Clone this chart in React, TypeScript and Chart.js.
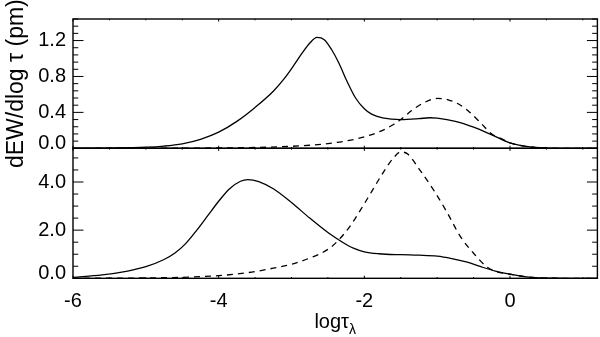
import React, { useEffect, useRef } from 'react';
import { Chart, registerables } from 'chart.js';

Chart.register(...registerables);

// ---- data ----
const topSolidX = [-6, -5.5, -5, -4.75, -4.5, -4.25, -4, -3.75, -3.5, -3.25, -3.1, -2.95, -2.85, -2.75, -2.65, -2.55, -2.45, -2.35, -2.24, -2.12, -2, -1.9, -1.75, -1.5, -1.25, -1.1, -1, -0.75, -0.5, -0.25, 0, 0.25, 0.5, 0.75, 1.2];
const topSolidY = [0, 0.003, 0.012, 0.025, 0.05, 0.1, 0.18, 0.3, 0.455, 0.635, 0.775, 0.945, 1.065, 1.17, 1.235, 1.21, 1.1, 0.95, 0.75, 0.56, 0.44, 0.38, 0.34, 0.32, 0.33, 0.34, 0.335, 0.3, 0.235, 0.15, 0.06, 0.018, 0.003, 0, 0];

const topDashedX = [-6, -5, -4.5, -4, -3.5, -3, -2.75, -2.5, -2.25, -2, -1.75, -1.6, -1.5, -1.35, -1.2, -1, -0.85, -0.7, -0.55, -0.4, -0.25, -0.1, 0, 0.25, 0.5, 0.75, 1.2];
const topDashedY = [0, 0.001, 0.002, 0.004, 0.009, 0.022, 0.034, 0.052, 0.082, 0.127, 0.2, 0.265, 0.32, 0.42, 0.5, 0.555, 0.54, 0.49, 0.4, 0.28, 0.16, 0.1, 0.06, 0.018, 0.003, 0, 0];

const bottomSolidX = [-6, -5.6, -5.25, -5, -4.75, -4.6, -4.45, -4.3, -4.15, -4, -3.85, -3.7, -3.6, -3.45, -3.25, -3, -2.75, -2.5, -2.3, -2.15, -2, -1.8, -1.5, -1.25, -1, -0.8, -0.6, -0.4, -0.2, 0, 0.2, 0.4, 0.6, 0.8, 1.2];
const bottomSolidY = [0.04, 0.14, 0.3, 0.48, 0.78, 1.05, 1.45, 2.0, 2.6, 3.2, 3.72, 4.03, 4.1, 4.02, 3.72, 3.15, 2.5, 1.9, 1.5, 1.25, 1.1, 1.02, 0.98, 0.96, 0.92, 0.82, 0.68, 0.48, 0.3, 0.17, 0.07, 0.02, 0.003, 0, 0];

const bottomDashedX = [-6, -5.5, -5, -4.5, -4, -3.75, -3.5, -3.25, -3, -2.75, -2.5, -2.35, -2.2, -2.05, -1.9, -1.75, -1.6, -1.5, -1.4, -1.25, -1.05, -0.87, -0.68, -0.5, -0.32, -0.18, 0, 0.2, 0.4, 0.6, 0.8, 1.2];
const bottomDashedY = [0, 0.005, 0.015, 0.04, 0.11, 0.18, 0.28, 0.42, 0.58, 0.84, 1.2, 1.6, 2.15, 2.85, 3.6, 4.35, 5.0, 5.25, 5.15, 4.55, 3.67, 2.77, 1.73, 1.04, 0.48, 0.27, 0.17, 0.07, 0.02, 0.003, 0, 0];

const xRange = [-6, 1.2];
const xMajorTicks = [-6, -4, -2, 0];
const xTickLabels = ['-6', '-4', '-2', '0'];
const xMinorStep = 0.5;

const topYRange = [0, 1.44];
const topYMajor = [0, 0.4, 0.8, 1.2];
const topYLabels = ['0.0', '0.4', '0.8', '1.2'];
const topYMinorStep = 0.08;

const bottomYRange = [0, 5.4];
const bottomYMajor = [0, 2, 4];
const bottomYLabels = ['0.0', '2.0', '4.0'];
const bottomYMinorStep = 0.5;

const yTitle = 'dEW/dlog τ (pm)';
const xTitleMain = 'logτ';
const xTitleSub = 'λ';

const FAMILY = '"Liberation Sans", Arial, Helvetica, sans-serif';
const W = 600;
const H = 337;
const PLOT_LEFT = 73;
const PLOT_RIGHT_PAD = 2.6;
const PLOT_TOP = 17;
const PLOT_MID = 148.3;
const PLOT_BOTTOM = 278.3;

function framePlugin(yMin: number, yMax: number, yMajor: number[], yMinorStep: number) {
  return {
    id: 'frameTicks',
    afterDatasetsDraw(chart: any) {
      const { ctx, chartArea: a } = chart;
      const xs = chart.scales.x;
      const ys = chart.scales.y;
      const w = a.right - a.left;
      const h = a.bottom - a.top;
      const xLen = 0.02 * h;
      const yLen = 0.02 * w;
      ctx.save();
      ctx.strokeStyle = '#000';
      ctx.lineWidth = 1;
      ctx.beginPath();
      for (let i = 0; ; i++) {
        const v = xRange[0] + i * xMinorStep;
        if (v > xRange[1] + 1e-9) break;
        const major = xMajorTicks.some((m) => Math.abs(m - v) < 1e-9);
        const len = major ? xLen : xLen / 2;
        const px = xs.getPixelForValue(v);
        ctx.moveTo(px, a.bottom);
        ctx.lineTo(px, a.bottom - len);
        ctx.moveTo(px, a.top);
        ctx.lineTo(px, a.top + len);
      }
      for (let i = 0; ; i++) {
        const v = yMin + i * yMinorStep;
        if (v > yMax + 1e-9) break;
        const major = yMajor.some((m) => Math.abs(m - v) < 1e-6);
        const len = major ? yLen : yLen / 2;
        const py = ys.getPixelForValue(v);
        ctx.moveTo(a.left, py);
        ctx.lineTo(a.left + len, py);
        ctx.moveTo(a.right, py);
        ctx.lineTo(a.right - len, py);
      }
      ctx.stroke();
      ctx.lineWidth = 1.4;
      ctx.strokeRect(a.left, a.top, w, h);
      ctx.restore();
    },
  };
}

const xTitlePlugin = {
  id: 'xTitle',
  afterDraw(chart: any) {
    const { ctx, chartArea: a } = chart;
    ctx.save();
    ctx.fillStyle = '#000';
    ctx.textBaseline = 'alphabetic';
    ctx.textAlign = 'left';
    const mainFont = `20px ${FAMILY}`;
    const subFont = `14px ${FAMILY}`;
    ctx.font = mainFont;
    const mw = ctx.measureText(xTitleMain).width;
    ctx.font = subFont;
    const sw = ctx.measureText(xTitleSub).width;
    const cx = (a.left + a.right) / 2;
    const x0 = cx - (mw + sw) / 2;
    ctx.font = mainFont;
    ctx.fillText(xTitleMain, x0, 328);
    ctx.font = subFont;
    ctx.fillText(xTitleSub, x0 + mw, 334);
    ctx.restore();
  },
};

function line(xs: number[], ys: number[], dashed: boolean) {
  return {
    data: xs.map((x, i) => ({ x, y: ys[i] })),
    borderColor: '#000',
    borderWidth: 1.3,
    borderDash: dashed ? [6, 5] : [],
    pointRadius: 0,
    cubicInterpolationMode: 'monotone' as const,
    fill: false,
  };
}

const yTickFont = (c: any) => ({
  family: FAMILY,
  size: 20,
  lineHeight: c && c.tick && c.tick.value === 0 ? 0.5 : 1.2,
});

function yScale(range: number[], major: number[], labels: string[], withTitle: boolean) {
  return {
    type: 'linear' as const,
    min: range[0],
    max: range[1],
    afterFit: (s: any) => {
      s.width = PLOT_LEFT;
    },
    afterBuildTicks: (s: any) => {
      s.ticks = major.map((v) => ({ value: v }));
    },
    grid: { display: false, drawTicks: false },
    border: { display: false },
    ticks: {
      padding: 7,
      color: '#000',
      font: yTickFont,
      callback: (v: any) => {
        const i = major.findIndex((m) => Math.abs(m - v) < 1e-9);
        const t = i >= 0 ? labels[i] : '';
        return Math.abs(v) < 1e-9 ? [t, ''] : t;
      },
    },
    title: {
      display: withTitle,
      text: yTitle,
      color: '#000',
      font: { family: FAMILY, size: 23 },
      padding: { top: 3, bottom: 3 },
    },
  };
}

export default function App() {
  const topRef = useRef<HTMLCanvasElement>(null);
  const botRef = useRef<HTMLCanvasElement>(null);

  useEffect(() => {
    Chart.defaults.color = '#000';
    Chart.defaults.font.family = FAMILY;

    const common = {
      animation: false as const,
      responsive: false,
      maintainAspectRatio: false,
      events: [] as any[],
      plugins: { legend: { display: false }, tooltip: { enabled: false } },
    };

    const top = new Chart(topRef.current as HTMLCanvasElement, {
      type: 'line',
      data: { datasets: [line(topSolidX, topSolidY, false), line(topDashedX, topDashedY, true)] as any },
      options: {
        ...common,
        layout: { padding: { left: 0, right: PLOT_RIGHT_PAD, top: PLOT_TOP, bottom: H - PLOT_MID } },
        scales: {
          x: { type: 'linear', min: xRange[0], max: xRange[1], display: false },
          y: yScale(topYRange, topYMajor, topYLabels, true) as any,
        },
      } as any,
      plugins: [framePlugin(topYRange[0], topYRange[1], topYMajor, topYMinorStep)],
    });

    const bottom = new Chart(botRef.current as HTMLCanvasElement, {
      type: 'line',
      data: { datasets: [line(bottomSolidX, bottomSolidY, false), line(bottomDashedX, bottomDashedY, true)] as any },
      options: {
        ...common,
        layout: { padding: { left: 0, right: PLOT_RIGHT_PAD, top: PLOT_MID, bottom: 0 } },
        scales: {
          x: {
            type: 'linear',
            min: xRange[0],
            max: xRange[1],
            afterFit: (s: any) => {
              s.height = H - PLOT_BOTTOM;
            },
            afterBuildTicks: (s: any) => {
              s.ticks = xMajorTicks.map((v) => ({ value: v }));
            },
            grid: { display: false, drawTicks: false },
            border: { display: false },
            ticks: {
              padding: 11,
              color: '#000',
              maxRotation: 0,
              autoSkip: false,
              font: { family: FAMILY, size: 20 },
              callback: (v: any) => {
                const i = xMajorTicks.findIndex((m) => Math.abs(m - v) < 1e-9);
                return i >= 0 ? xTickLabels[i] : '';
              },
            },
          },
          y: yScale(bottomYRange, bottomYMajor, bottomYLabels, false) as any,
        },
      } as any,
      plugins: [framePlugin(bottomYRange[0], bottomYRange[1], bottomYMajor, bottomYMinorStep), xTitlePlugin],
    });

    return () => {
      top.destroy();
      bottom.destroy();
    };
  }, []);

  const canvasStyle: React.CSSProperties = {
    position: 'absolute',
    left: 0,
    top: 0,
    width: W,
    height: H,
  };

  return (
    <div style={{ position: 'absolute', left: 0, top: 0, width: W, height: H, background: '#fff' }}>
      <canvas ref={topRef} width={W} height={H} style={canvasStyle} />
      <canvas ref={botRef} width={W} height={H} style={canvasStyle} />
    </div>
  );
}
